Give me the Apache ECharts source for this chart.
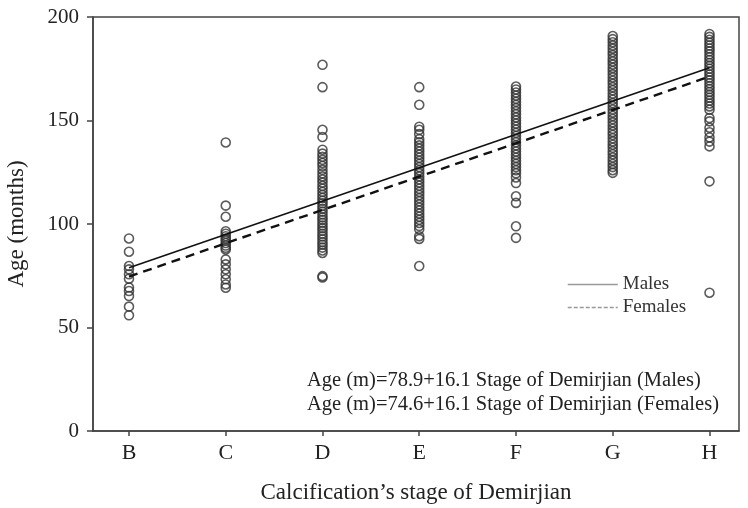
<!DOCTYPE html>
<html>
<head>
<meta charset="utf-8">
<script src="https://cdn.jsdelivr.net/npm/echarts@6/dist/echarts.min.js"></script>
<style>html,body{margin:0;padding:0;background:#fff;}#c{width:748px;height:508px;}</style>
</head>
<body>
<div id="c"></div>
<script>
var categories = ['B', 'C', 'D', 'E', 'F', 'G', 'H'];
var yTicks = [0, 50, 100, 150, 200];

var stageB = [93, 86.6, 79.7, 78.1, 75.7, 73.6, 69.3, 67.6, 65.2, 60.1, 55.9];
var stageC = [139.4, 108.9, 103.5, 96.5, 95.3, 94.1, 93, 92, 90.8, 89.6, 88.5, 87.7, 82.9, 80.5, 78.1, 75.7, 73.3, 70.8, 69.2];
var stageD = [176.9, 166.1, 145.5, 142, 135.9, 134, 132.5, 131, 129.5, 128, 126.2, 124.5, 123, 121.5, 120, 118.4, 117, 115.5, 114, 112.6, 111.2, 110, 108.7, 107.4, 106, 104.6, 103.2, 102, 100.6, 99.3, 98, 96.7, 95.3, 94, 92.6, 91.2, 90, 88.6, 87.2, 86, 74.8, 74.2];
var stageE = [166.1, 157.6, 147, 145.5, 143.4, 141, 139.5, 138, 136.5, 135, 133.5, 132, 130.5, 129, 127.5, 126, 124.5, 123, 121.5, 120, 118.5, 117, 115.5, 114, 112.5, 111, 109.5, 108, 106.5, 105, 103.5, 102, 100.5, 99, 97.5, 94.1, 92.8, 79.7];
var stageF = [166.4, 165, 163.5, 162, 160.5, 159, 157.5, 156, 154.5, 153, 151.5, 150, 148.5, 147, 145.5, 144, 142.5, 141, 139.5, 138, 136.5, 135, 133.5, 132, 130.5, 129, 127.5, 126, 124.5, 122.5, 119.8, 113.4, 110.2, 98.9, 93.3];
var stageG = [190.8, 189.3, 187.8, 186.2, 184.7, 183.1, 181.6, 180, 178.5, 177, 175.4, 173.9, 172.3, 170.8, 169.2, 167.7, 166.1, 164.6, 163, 161.5, 160, 158.4, 156.9, 155.3, 153.8, 152.2, 150.7, 149.1, 147.6, 146, 144.5, 143, 141.4, 139.9, 138.3, 136.8, 135.2, 133.7, 132.1, 130.6, 129, 127.5, 126, 124.7];
var stageH = [191.8, 190.4, 189, 187.6, 186.2, 184.8, 183.4, 182, 180.6, 179.2, 177.8, 176.4, 175, 173.6, 172.2, 170.8, 169.4, 168, 166.6, 165.2, 163.8, 162.4, 161, 159.6, 158.2, 156.8, 155.2, 151.2, 149.6, 146.5, 144.3, 141.8, 139.8, 137.5, 120.6, 66.8];

// regression line end points (stage B and stage H)
var malesLine = [78.9, 175.5];
var femalesLine = [74.6, 171.2];

var equations = [
  'Age (m)=78.9+16.1 Stage of Demirjian (Males)',
  'Age (m)=74.6+16.1 Stage of Demirjian (Females)'
];

var stages = [stageB, stageC, stageD, stageE, stageF, stageG, stageH];
var scatterData = [];
stages.forEach(function (arr, i) {
  arr.forEach(function (v) { scatterData.push([i, v]); });
});
var last = categories.length - 1;
var catIdx = categories.map(function (c, i) { return i; });

var FONT = 'Liberation Serif';
var chart = echarts.init(document.getElementById('c'), null, {renderer: 'canvas'});
chart.setOption({
  animation: false,
  backgroundColor: '#fff',
  grid: {left: 93, right: 9, top: 17, bottom: 77, outerBoundsMode: 'none', containLabel: false,
    show: true, borderColor: '#444', borderWidth: 1.5, backgroundColor: 'transparent'},
  xAxis: {
    type: 'value', min: -0.372, max: 6.305,
    name: 'Calcification\u2019s stage of Demirjian', nameLocation: 'middle', nameGap: 50,
    nameTextStyle: {fontFamily: FONT, fontSize: 23, color: '#222'},
    axisLine: {show: true, onZero: false, lineStyle: {color: '#444', width: 1.5}},
    splitLine: {show: false},
    axisTick: {show: true, customValues: catIdx, length: 5, lineStyle: {color: '#444', width: 1.5}},
    axisLabel: {show: true, customValues: catIdx, margin: 11, fontFamily: FONT, fontSize: 22, color: '#222',
      formatter: function (v) { return categories[Math.round(v)] || ''; }}
  },
  yAxis: {
    type: 'value', min: yTicks[0], max: yTicks[yTicks.length - 1], interval: 50,
    name: 'Age (months)', nameLocation: 'middle', nameGap: 65,
    nameTextStyle: {fontFamily: FONT, fontSize: 23, color: '#222'},
    axisLine: {show: true, onZero: false, lineStyle: {color: '#444', width: 1.5}},
    splitLine: {show: false},
    axisTick: {show: true, length: 6, lineStyle: {color: '#444', width: 1.5}},
    axisLabel: {margin: 14, fontFamily: FONT, fontSize: 21, color: '#222'}
  },
  legend: {
    orient: 'vertical', left: 562, top: 270, itemGap: 4, itemWidth: 50, itemHeight: 14,
    textStyle: {fontFamily: FONT, fontSize: 19, color: '#333'},
    data: [
      {name: 'Males', itemStyle: {opacity: 0}, lineStyle: {color: '#999', width: 1.5, type: 'solid'}},
      {name: 'Females', itemStyle: {opacity: 0}, lineStyle: {color: '#999', width: 1.5, type: [4, 2]}}
    ]
  },
  graphic: [
    {type: 'text', left: 307, top: 370, style: {text: equations[0], font: '20.5px "Liberation Serif"', fill: '#222'}},
    {type: 'text', left: 307, top: 394, style: {text: equations[1], font: '20.5px "Liberation Serif"', fill: '#222'}}
  ],
  series: [
    {
      name: 'Observed', type: 'scatter', symbol: 'circle', symbolSize: 9,
      itemStyle: {color: 'rgba(0,0,0,0)', borderColor: '#333', borderWidth: 1.6},
      data: scatterData, z: 2
    },
    {
      name: 'Males', type: 'line', symbol: 'none', z: 3,
      lineStyle: {color: '#111', width: 1.6, type: 'solid'},
      data: [[0, malesLine[0]], [last, malesLine[1]]]
    },
    {
      name: 'Females', type: 'line', symbol: 'none', z: 3,
      lineStyle: {color: '#111', width: 2.4, type: [9, 6]},
      data: [[0, femalesLine[0]], [last, femalesLine[1]]]
    }
  ]
});
</script>
</body>
</html>
